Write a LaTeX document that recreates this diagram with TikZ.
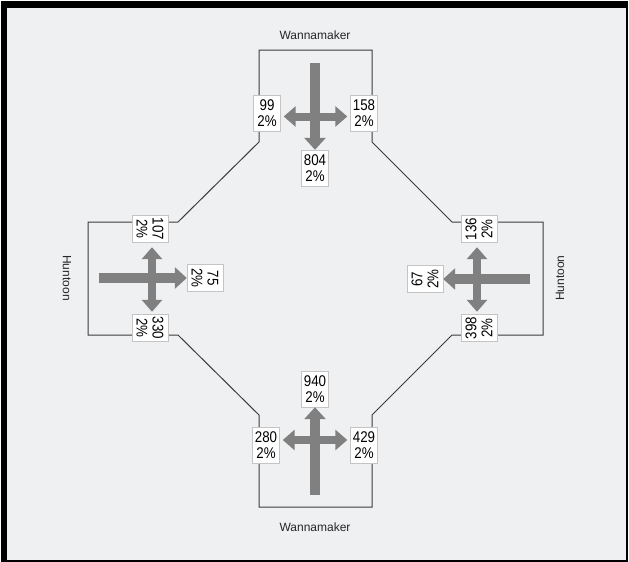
\documentclass[tikz,border=0pt]{standalone}
\usepackage{fontspec}
\setmainfont{Liberation Sans}
\newfontfamily\countfont[FakeStretch=0.86]{Liberation Sans}
\usepackage{xcolor}
\usetikzlibrary{arrows.meta, positioning, calc}
\definecolor{panel}{HTML}{EEF0F2}
\definecolor{curb}{HTML}{3C3C3C}
\definecolor{flow}{HTML}{808080}
\definecolor{boxline}{HTML}{C4C4C4}
\tikzset{count/.style={rectangle,draw=boxline,fill=white,align=center,inner sep=1pt,minimum width=27pt,minimum height=36pt,font=\countfont\fontsize{15.5}{16}\selectfont},
         street/.style={font=\fontsize{12}{14}\selectfont,text=black!85},
         curbline/.style={draw=curb,line width=1pt},
         thru/.style={flow,line width=10pt,-{Triangle[length=12pt,width=21pt]}},
         turn/.style={flow,line width=8pt,{Triangle[length=12pt,width=20pt]}-{Triangle[length=12pt,width=20pt]}}}

\begin{document}
\begin{tikzpicture}[x=1pt,y=-1pt]
    \useasboundingbox (0,0) rectangle (629,562);
    \fill[white] (0,0) rectangle (629,562);
    \fill[black] (1,1) rectangle (628,561.5);
    \fill[panel] (7,8) rectangle (626,559.5);
    % street outline
    \draw[curbline] (259,50) -- (372,50) -- (372,142) -- (452,222) -- (543,222) -- (543,335) -- (452,335)
        -- (372,415) -- (372,507) -- (259,507) -- (259,415) -- (178,335) -- (88,335) -- (88,222)
        -- (178,222) -- (259,142) -- cycle;
    \node[street] (wmN) at (315,35) {Wannamaker};
    \node[street] (wmS) at (315,527) {Wannamaker};
    \node[street, rotate=-90] (htW) at (67,278) {Huntoon};
    \node[street, rotate=90] (htE) at (560,278) {Huntoon};
    % north approach
    \node[count] (n99) at (267,113.5) {99\\2\%};
    \node[count] (n158) at (364,113.5) {158\\2\%};
    \node[count] (n804) at (315,168) {804\\2\%};
    % south approach
    \node[count] (s940) at (315,389) {940\\2\%};
    \node[count] (s280) at (266,445) {280\\2\%};
    \node[count] (s429) at (364,445) {429\\2\%};
    % west approach
    \node[count, rotate=-90] (w107) at (150,229) {107\\2\%};
    \node[count, rotate=-90] (w330) at (150,328) {330\\2\%};
    \node[count, rotate=-90] (w75) at (205,278) {75\\2\%};
    % east approach
    \node[count, rotate=90] (e136) at (479,229) {136\\2\%};
    \node[count, rotate=90] (e398) at (479,328) {398\\2\%};
    \node[count, rotate=90] (e67) at (425,279) {67\\2\%};
    % movements
    \coordinate (inN) at (315,63);
    \coordinate (inS) at (315,495);
    \coordinate (inW) at (99,278);
    \coordinate (inE) at (530,279);
    \draw[thru] (inN) -- (n804.north);
    \draw[thru] (inS) -- (s940.south);
    \draw[thru] (inW) -- (w75.south);
    \draw[thru] (inE) -- (e67.south);
    \draw[turn] ([shift={(3pt,-3pt)}]n99.east) -- ([shift={(-3pt,-3pt)}]n158.west);
    \draw[turn] ([shift={(3pt,5pt)}]s280.east) -- ([shift={(-3pt,5pt)}]s429.west);
    \draw[turn] ([shift={(2pt,-4.5pt)}]w107.east) -- ([shift={(2pt,2.5pt)}]w330.west);
    \draw[turn] ([shift={(-2pt,-4.5pt)}]e136.west) -- ([shift={(-2pt,2.5pt)}]e398.east);
\end{tikzpicture}
\end{document}
